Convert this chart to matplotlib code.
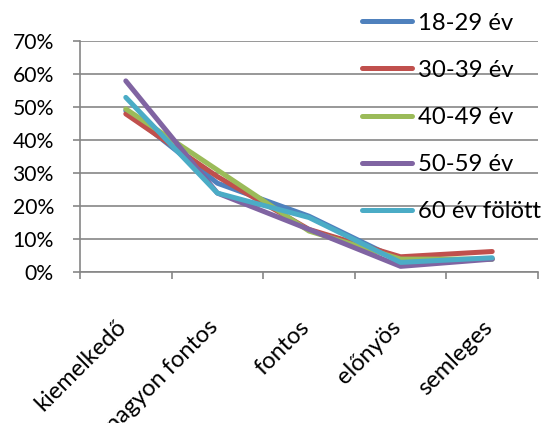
import matplotlib
matplotlib.use("Agg")
import matplotlib.pyplot as plt
import matplotlib.transforms as mtransforms
from matplotlib.ticker import PercentFormatter, FixedLocator, NullFormatter

# --- Data ---
categories = ["kiemelkedő", "nagyon fontos", "fontos", "előnyös", "semleges"]
series_names = ["18-29 év", "30-39 év", "40-49 év", "50-59 év", "60 év fölött"]
v_18_29 = [49, 27, 17, 3.5, 4]
v_30_39 = [48, 29, 13, 4.7, 6.3]
v_40_49 = [49.5, 31, 12.5, 4, 4]
v_50_59 = [58, 24, 13, 1.8, 4]
v_60_up = [53, 24, 16.6, 3, 4.4]
colors = ["#4F81BD", "#C0504D", "#9BBB59", "#8064A2", "#4BACC6"]

plt.rcParams['font.family'] = ['Lato', 'DejaVu Sans']

W, H = 546, 423
fig = plt.figure(figsize=(W / 100, H / 100), dpi=100)
# plot area in pixels: x 80..538, y 41.3..272.3
ax = fig.add_axes([80 / W, 1 - 272.3 / H, 458 / W, 231 / H])

x = list(range(len(categories)))
for vals, name, c in zip([v_18_29, v_30_39, v_40_49, v_50_59, v_60_up], series_names, colors):
    ax.plot(x, vals, color=c, lw=3.6, solid_capstyle='round', solid_joinstyle='round', label=name, zorder=3)

ax.set_xlim(-0.5, len(categories) - 0.5)
ax.set_ylim(0, 70)
ax.set_yticks(range(0, 71, 10))
ax.yaxis.set_major_formatter(PercentFormatter(decimals=0))
ax.grid(axis='y', color='#868686', lw=1.2, zorder=0)
ax.set_axisbelow(True)

# category labels at centres, tick marks at boundaries
ax.xaxis.set_major_locator(FixedLocator([i - 0.5 for i in range(len(categories) + 1)]))
ax.xaxis.set_major_formatter(NullFormatter())
ax.xaxis.set_minor_locator(FixedLocator(x))
ax.set_xticklabels(categories, minor=True, rotation=45, ha='right', va='center', rotation_mode='anchor', fontsize=17)
ax.tick_params(axis='x', which='minor', length=0, pad=37)
ax.tick_params(axis='x', which='major', length=5, color='#868686', width=1.2)
ax.tick_params(axis='y', length=5.3, color='#868686', width=1.2, labelsize=15.2, pad=13.5)

# nudge the rotated labels a little to the left, as in the reference
shift = mtransforms.ScaledTranslation(-3 / 100, 0, fig.dpi_scale_trans)
for lbl in ax.get_xticklabels(minor=True):
    lbl.set_transform(lbl.get_transform() + shift)

for side in ['top', 'right']:
    ax.spines[side].set_visible(False)
for side in ['left', 'bottom']:
    ax.spines[side].set_color('#868686')
    ax.spines[side].set_linewidth(1.2)

fig.legend(loc='upper left', bbox_to_anchor=(362 / W, 1 - 12.8 / H), frameon=False,
           fontsize=17.2, handlelength=2.09, handletextpad=0.27, labelspacing=1.09, borderpad=0,
           borderaxespad=0)

fig.savefig("out.png", dpi=100)
